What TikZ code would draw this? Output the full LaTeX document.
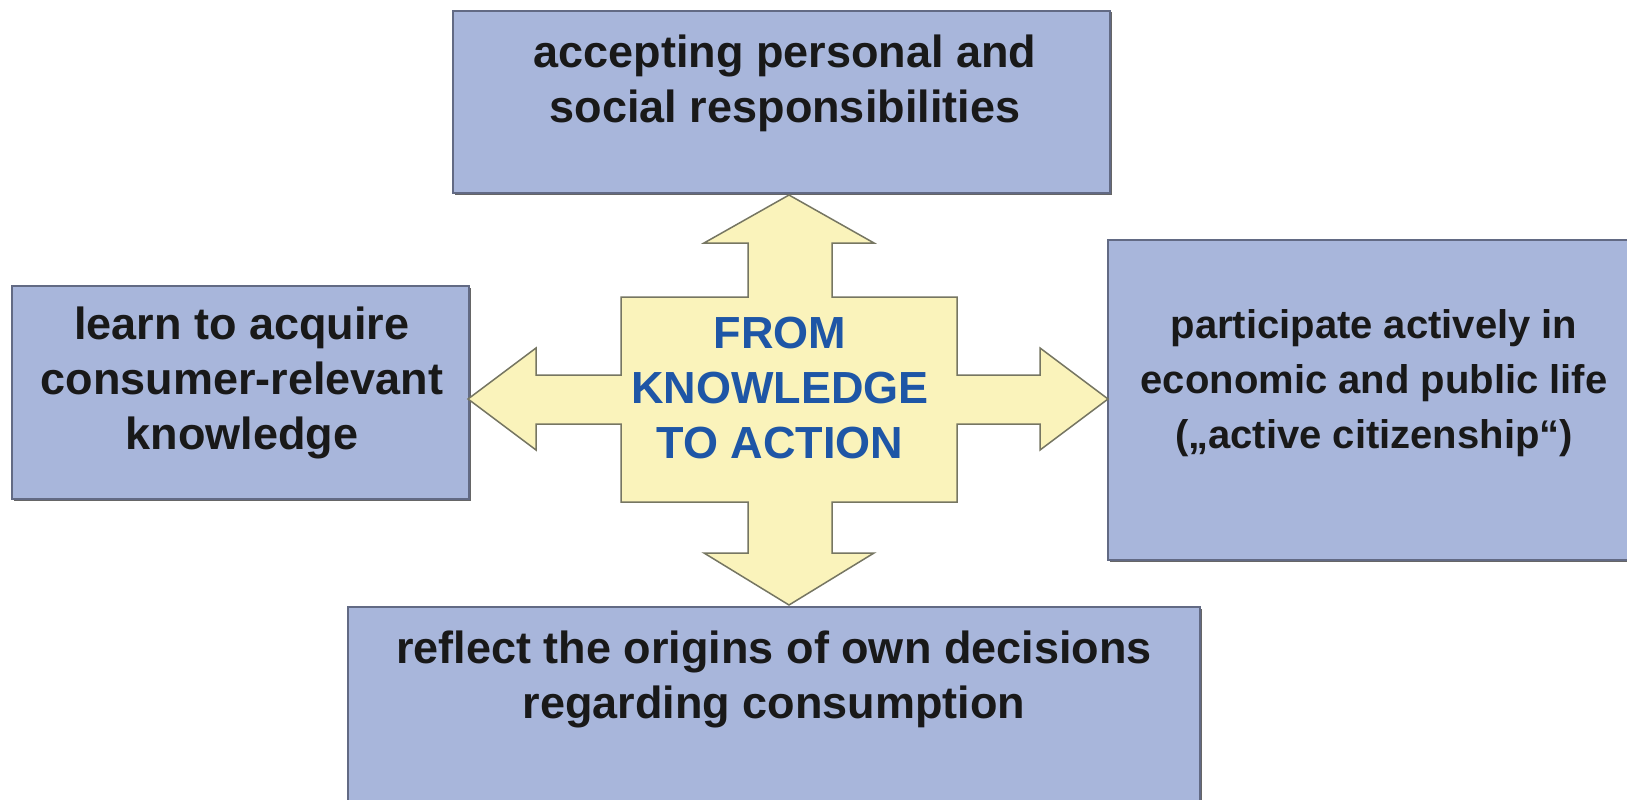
\documentclass[tikz,border=0pt]{standalone}
\usepackage{fontspec}
\setmainfont{Liberation Sans}
\usetikzlibrary{shadows}

\definecolor{boxblue}{RGB}{168,182,219}
\definecolor{boxedge}{RGB}{98,106,132}
\definecolor{crossyellow}{RGB}{250,243,187}
\definecolor{crossedge}{RGB}{118,118,98}
\definecolor{actionblue}{RGB}{30,86,166}

\begin{document}
\begin{tikzpicture}[x=1pt, y=-1pt,
    goal/.style={draw=boxedge, fill=boxblue, line width=1.5pt, inner sep=0pt,
      drop shadow={shadow xshift=1.5pt, shadow yshift=-1.5pt, fill=black!60, opacity=1}},
    goaltext/.style={align=center, text=black!90, font=\bfseries\fontsize{45}{55}\selectfont},
  ]
    \clip (0,0) rectangle (1627,800);
    \fill [white] (0,0) rectangle (1627,800);

    % boxes round the cross
    \node [goal, minimum width=657pt, minimum height=182pt] (resp) at (781.5,102) {};
    \node [goal, minimum width=457pt, minimum height=213pt] (learn) at (240.5,392.5) {};
    \node [goal, minimum width=527pt, minimum height=320pt] (part) at (1371.5,400) {};
    \node [goal, minimum width=852pt, minimum height=203pt] (refl) at (774,708.5) {};

    \node [goaltext] (respT) at (785,83) {accepting personal and\\social responsibilities};
    \node [goaltext] (learnT) at (242,383) {learn to acquire\\consumer-relevant\\knowledge};
    \node [goaltext, font=\bfseries\fontsize{40}{55}\selectfont] (partT) at (1374,383)
      {participate actively in\\economic and public life\\(„active citizenship“)};
    \node [goaltext] (reflT) at (774,679) {reflect the origins of own decisions\\regarding consumption};

    % four-way arrow in the middle
    \draw [line width=1.5pt, crossedge, fill=crossyellow, line join=miter]
      (789,195) -- (874,243) -- (832,243) -- (832,297) -- (957,297) -- (957,375)
      -- (1040,375) -- (1040,348) -- (1108,399) -- (1040,450) -- (1040,424)
      -- (957,424) -- (957,502) -- (832,502) -- (832,553) -- (874,553)
      -- (789,605) -- (704,553) -- (748,553) -- (748,502) -- (621,502)
      -- (621,424) -- (536,424) -- (536,450) -- (468,399) -- (536,348)
      -- (536,375) -- (621,375) -- (621,297) -- (748,297) -- (748,243)
      -- (704,243) -- cycle;

    \node [goaltext, text=actionblue] (hub) at (780,388) {FROM\\KNOWLEDGE\\TO ACTION};
\end{tikzpicture}
\end{document}
